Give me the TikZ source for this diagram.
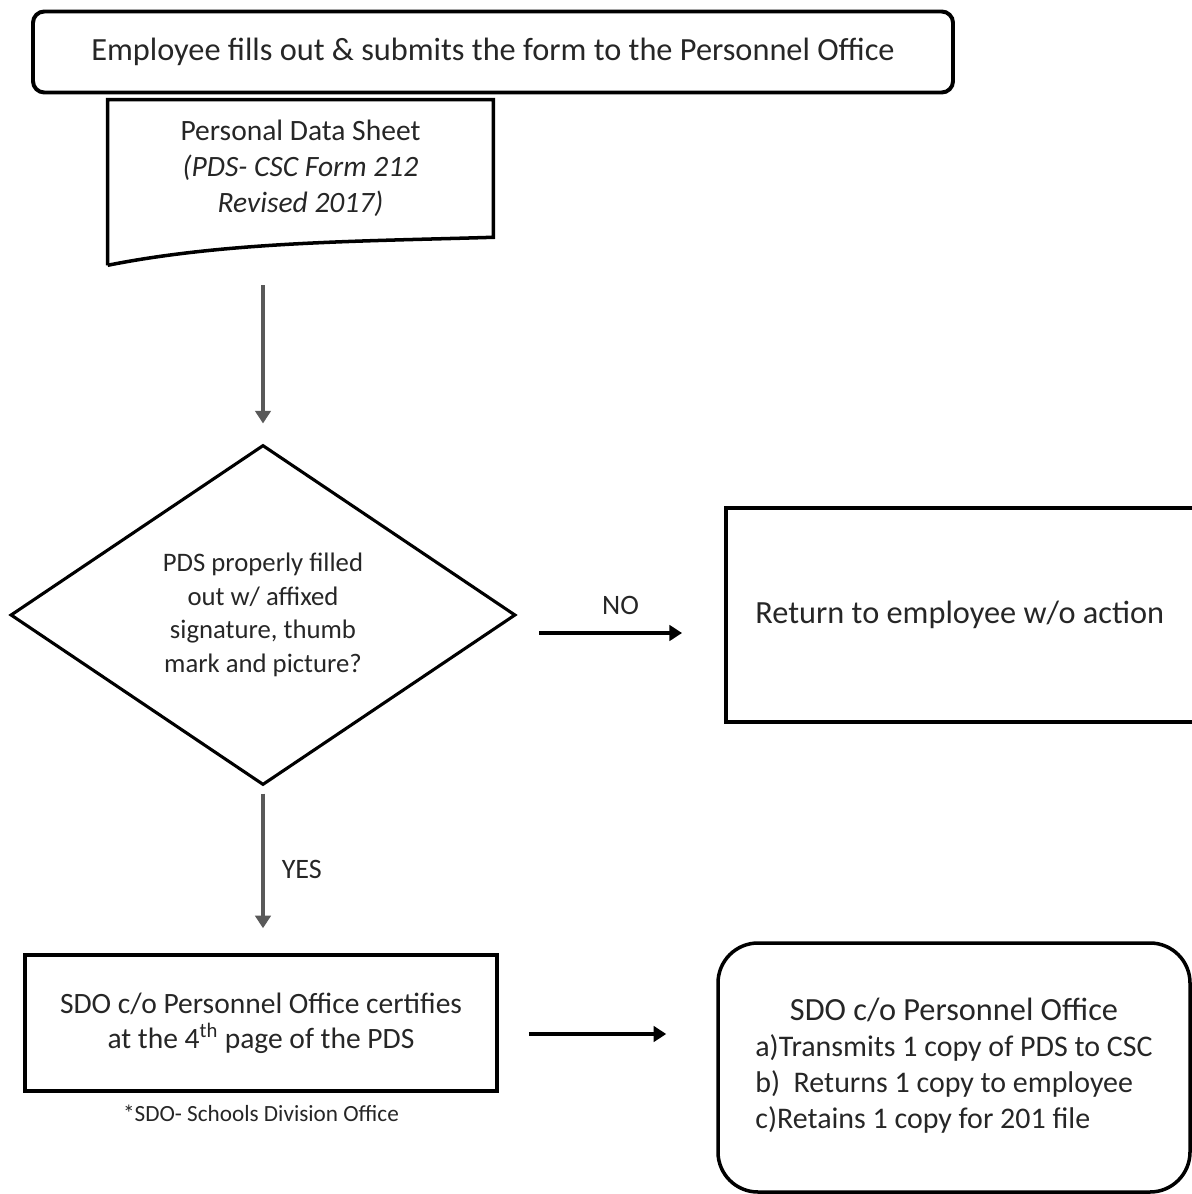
\documentclass[tikz,border=0pt]{standalone}
\usepackage{fontspec}
\setmainfont{Carlito}
\usetikzlibrary{arrows.meta, positioning, shapes.geometric}

\begin{document}
\begin{tikzpicture}[
						block/.style={draw, rectangle, line width=2.5pt, align=center, inner sep=0pt},
						arrow/.style={draw, line width=2.6pt, -{Triangle[length=9pt, width=11pt]}},
						every node/.append style={text=black!85}]
		\useasboundingbox (0,0) rectangle (29.8,-29.85);
		\node (top) [block, rounded corners=8pt, line width=2.8pt, minimum width=23cm, minimum height=2.025cm, font=\fontsize{23}{26}\selectfont] at (12.325,-1.3) {Employee fills out \& submits the form to the Personnel Office};
		\node (pds) [rectangle, align=center, minimum width=9.625cm, minimum height=3.425cm, inner sep=0pt, font=\fontsize{21}{25.6}\selectfont] at (7.5125,-4.2125) {Personal Data Sheet\\ \textit{(PDS- CSC Form 212}\\ \textit{Revised 2017)}};
		\node (dec) [diamond, draw, line width=2.2pt, minimum width=12.625cm, minimum height=8.5cm, inner sep=0pt, align=center, font=\fontsize{19}{23.8}\selectfont] at (6.575,-15.375) {PDS properly filled\\ out w/ affixed\\ signature, thumb\\ mark and picture?};
		\node (ret) [block, minimum width=11.7cm, minimum height=5.35cm, font=\fontsize{23}{26}\selectfont, right=5.175cm of dec] {Return to employee w/o action};
		\node (sdo) [block, minimum width=11.8cm, minimum height=3.4cm, font=\fontsize{21}{25}\selectfont] at (6.525,-25.575) {SDO c/o Personnel Office certifies\\ at the 4\textsuperscript{th} page of the PDS};
		\node (note) [below=0.3cm of sdo, inner sep=0pt, font=\fontsize{16.5}{18}\selectfont] {*SDO- Schools Division Office};
		\node (csc) [block, rounded corners=1cm, minimum width=11.8cm, minimum height=6.225cm, font=\fontsize{21.3}{25.6}\selectfont] at (23.85,-26.6875) {\begin{tabular}{@{}l@{}}\multicolumn{1}{c}{\fontsize{23}{25.6}\selectfont SDO c/o Personnel Office}\\ a)Transmits 1 copy of PDS to CSC\\ b)~~Returns 1 copy to employee\\ c)Retains 1 copy for 201 file\end{tabular}};

		% document shape with wavy bottom
		\draw[line width=2.5pt] ([yshift=-0.7cm]pds.south west) -- (pds.north west) -- (pds.north east) -- (pds.south east)
			.. controls +(-3.2,-0.1) and +(3,0.6) .. ([yshift=-0.7cm]pds.south west);

		\draw[arrow, black!65, line width=3pt, shorten <=1.2cm, shorten >=0.5cm] (pds.south -| dec.north) -- (dec.north);
		\draw[arrow, shorten <=0.55cm, shorten >=1.05cm] ([yshift=-0.45cm]dec.east) -- ([yshift=-0.45cm]ret.west)
			node[midway, above=0.3cm, font=\fontsize{20}{22}\selectfont] {NO};
		\draw[arrow, black!65, line width=3pt, shorten <=0.175cm, shorten >=0.625cm] (dec.south) -- (dec.south |- sdo.north)
			node[midway, right=0.3cm, font=\fontsize{20}{22}\selectfont] {YES};
		\draw[arrow, shorten <=0.75cm, shorten >=1.25cm] ([yshift=-0.275cm]sdo.east) -- ([yshift=-0.275cm]sdo.east -| csc.west);
	\end{tikzpicture}
\end{document}
